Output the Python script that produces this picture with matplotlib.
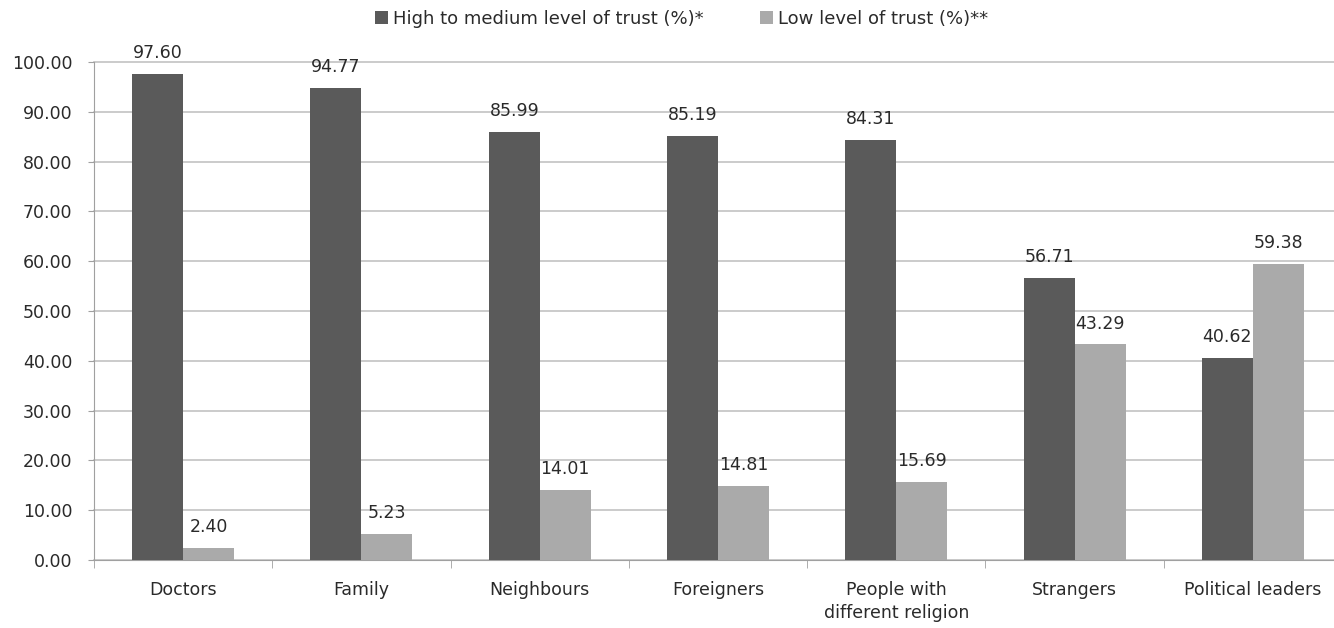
import matplotlib
matplotlib.use("Agg")
import matplotlib.pyplot as plt
import numpy as np

categories = ["Doctors", "Family", "Neighbours", "Foreigners",
              "People with\ndifferent religion", "Strangers", "Political leaders"]
high_medium = [97.60, 94.77, 85.99, 85.19, 84.31, 56.71, 40.62]
low = [2.40, 5.23, 14.01, 14.81, 15.69, 43.29, 59.38]
series_names = ["High to medium level of trust (%)*", "Low level of trust (%)**"]
yticks = [0, 10, 20, 30, 40, 50, 60, 70, 80, 90, 100]

plt.rcParams['font.family'] = ['DejaVu Sans']

fig = plt.figure(figsize=(13.34, 6.28), dpi=100)
ax = fig.add_axes([0.0705, 0.1083, 0.9355, 0.793])

x = np.arange(len(categories))
w = 0.286
dark = "#5a5a5a"
light = "#aaaaaa"
txt = "#2a2a2a"
b1 = ax.bar(x - w/2, high_medium, w, color=dark, label=series_names[0], zorder=3)
b2 = ax.bar(x + w/2, low, w, color=light, label=series_names[1], zorder=3)

for xs, vals in ((x - w/2, high_medium), (x + w/2, low)):
    for xi, v in zip(xs, vals):
        ax.annotate(f"{v:.2f}", (xi, v), xytext=(0, 15), textcoords="offset points",
                    ha="center", va="center", fontsize=12.5, color=txt,
                    annotation_clip=False)

ax.set_xlim(-0.5, len(categories) - 0.5)
ax.set_ylim(0, 100)
ax.set_yticks(yticks)
ax.set_yticklabels([f"{t:.2f}" for t in yticks], fontsize=12.5, color=txt)
ax.yaxis.grid(True, color="#c2c2c2", linewidth=1.2, zorder=0)
ax.set_axisbelow(True)
for gl in ax.get_ygridlines():
    gl.set_clip_on(False)

ax.set_xticks(x)
ax.set_xticklabels(categories, fontsize=12.5, color=txt, linespacing=1.35)
ax.tick_params(axis="x", length=0, pad=15)
ax.set_xticks(np.arange(-0.5, len(categories) + 0.5, 1), minor=True)
ax.tick_params(axis="x", which="minor", length=6, color="#a0a0a0")
ax.tick_params(axis="y", length=4.5, color="#a0a0a0", pad=11)

for s in ["top", "right"]:
    ax.spines[s].set_visible(False)
for s in ["left", "bottom"]:
    ax.spines[s].set_color("#a0a0a0")

fig.legend(handles=[b1, b2], labels=series_names, loc="center",
           bbox_to_anchor=(0.511, 0.97), ncol=2, frameon=False, fontsize=13,
           handlelength=0.7, handleheight=0.7, handletextpad=0.3, columnspacing=3.1,
           labelcolor=txt)

fig.savefig("out.png", dpi=100)
